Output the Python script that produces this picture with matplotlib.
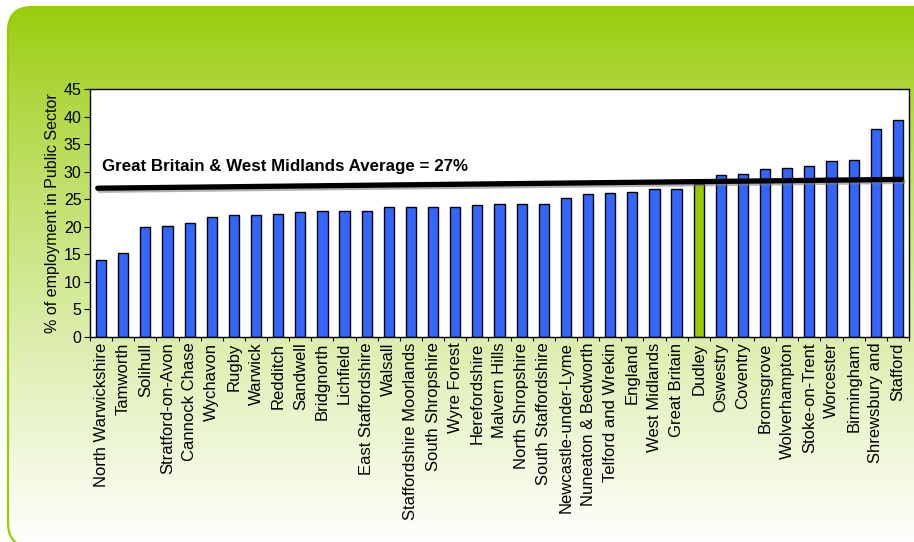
import numpy as np
import matplotlib
matplotlib.use("Agg")
import matplotlib.pyplot as plt
import matplotlib.patheffects as pe
from matplotlib.patches import FancyBboxPatch
from matplotlib.colors import to_rgb

plt.rcParams["font.family"] = ["Liberation Sans", "DejaVu Sans"]

# ---- data -------------------------------------------------------------
areas = [
    "North Warwickshire", "Tamworth", "Solihull", "Stratford-on-Avon",
    "Cannock Chase", "Wychavon", "Rugby", "Warwick", "Redditch", "Sandwell",
    "Bridgnorth", "Lichfield", "East Staffordshire", "Walsall",
    "Staffordshire Moorlands", "South Shropshire", "Wyre Forest",
    "Herefordshire", "Malvern Hills", "North Shropshire", "South Staffordshire",
    "Newcastle-under-Lyme", "Nuneaton & Bedworth", "Telford and Wrekin",
    "England", "West Midlands", "Great Britain", "Dudley", "Oswestry",
    "Coventry", "Bromsgrove", "Wolverhampton", "Stoke-on-Trent", "Worcester",
    "Birmingham", "Shrewsbury and", "Stafford",
]
public_pct = [
    14.0, 15.3, 19.9, 20.2, 20.7, 21.8, 22.1, 22.1, 22.4, 22.6,
    22.9, 22.9, 22.9, 23.5, 23.6, 23.6, 23.6, 24.0, 24.2, 24.2,
    24.2, 25.3, 25.9, 26.1, 26.4, 26.9, 26.9, 27.8, 29.4, 29.6,
    30.5, 30.7, 31.0, 31.9, 32.1, 37.8, 39.4,
]
highlight = "Dudley"
avg_label = "Great Britain & West Midlands Average = 27%"
avg_line_x = [-0.15, 36.15]
avg_line_y = [27.0, 28.6]

BLUE = "#3366FF"
GREEN = "#99CC00"

W, H = 914, 542
fig = plt.figure(figsize=(W / 100, H / 100), dpi=100)
fig.patch.set_facecolor("white")

# ---- green gradient panel (pixel coords, y measured upward) -----------
bg = fig.add_axes([0, 0, 1, 1])
bg.set_xlim(0, W)
bg.set_ylim(0, H)
bg.axis("off")
top = np.array(to_rgb("#99CC0A"))
t = np.linspace(0, 1, 300) ** 0.85
grad = top[None, :] * (1 - t[:, None]) + np.ones(3)[None, :] * t[:, None]
grad = np.repeat(grad[:, None, :], 2, axis=1)
panel = FancyBboxPatch((8, -5), 930, H - 7 + 5,
                       boxstyle="round,pad=0,rounding_size=24",
                       facecolor="none", edgecolor=GREEN, linewidth=1.6, zorder=2)
bg.add_patch(panel)
im = bg.imshow(grad, extent=(8, 938, -5, H - 7), aspect="auto", zorder=1,
               origin="upper")
im.set_clip_path(panel)

# ---- chart -----------------------------------------------------------
ax = fig.add_axes([90 / W, 1 - 337 / H, (909 - 90) / W, (337 - 89) / H])
ax.set_facecolor("white")
x = np.arange(len(areas))
colors = [GREEN if a == highlight else BLUE for a in areas]
ax.bar(x, public_pct, width=0.46, color=colors, edgecolor="black",
       linewidth=1.0, zorder=2)

ax.plot(avg_line_x, avg_line_y, color="black", linewidth=3.8,
        solid_capstyle="round", zorder=3,
        path_effects=[pe.SimpleLineShadow(offset=(1.2, -1.5), shadow_color="gray",
                                          alpha=0.6), pe.Normal()])
ax.text(0.05, 31.0, avg_label, fontsize=12.2, fontweight="bold", ha="left",
        va="center", zorder=4)

ax.set_xlim(-0.5, len(areas) - 0.5)
ax.set_ylim(0, 45)
ax.set_yticks(np.arange(0, 46, 5))
ax.tick_params(axis="y", labelsize=11.5, length=4, width=0.8, pad=2)
ax.set_xticks(x)
ax.set_xticklabels(areas, rotation=90, fontsize=12)
ax.tick_params(axis="x", length=0, pad=4)
ax.set_xticks(np.arange(-0.5, len(areas), 1), minor=True)
ax.tick_params(axis="x", which="minor", length=3, width=0.8)
for s in ax.spines.values():
    s.set_linewidth(1.0)
ax.set_ylabel("% of employment in Public Sector", fontsize=11.5, labelpad=3)

fig.savefig("out.png", dpi=100)
